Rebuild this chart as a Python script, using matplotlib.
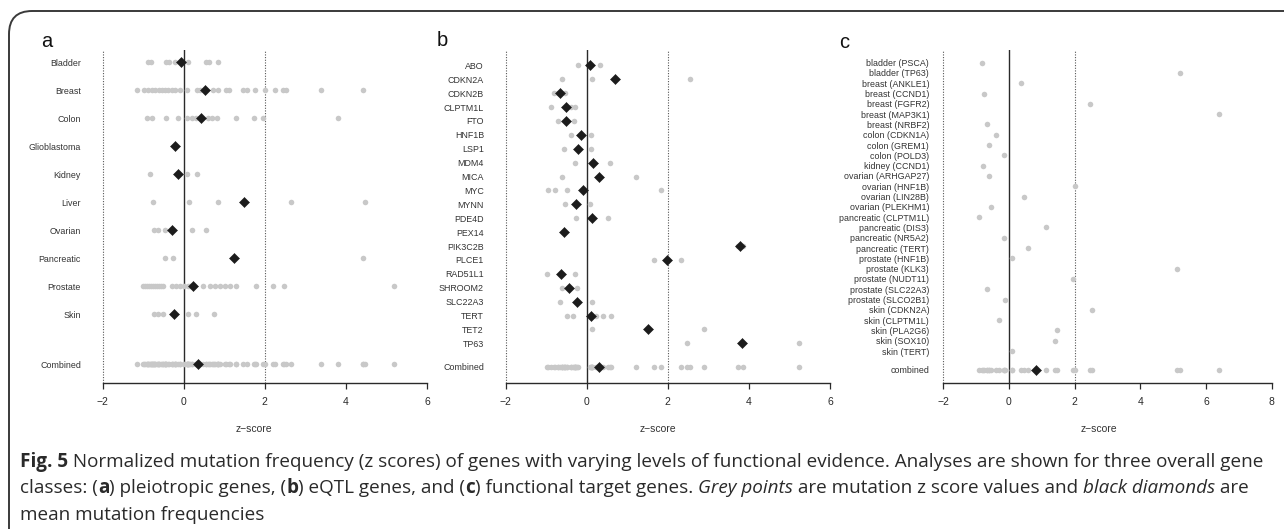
import numpy as np
import matplotlib
matplotlib.use("Agg")
import matplotlib.pyplot as plt
from matplotlib.patches import FancyBboxPatch
from matplotlib.transforms import blended_transform_factory

# ---------------- data ----------------
cats_a = ["Bladder", "Breast", "Colon", "Glioblastoma", "Kidney", "Liver",
          "Ovarian", "Pancreatic", "Prostate", "Skin"]
z_bladder = [-0.89, -0.82, -0.45, -0.37, -0.22, 0.11, 0.55, 0.63, 0.85]
z_breast = [-1.16, -0.98, -0.87, -0.79, -0.71, -0.62, -0.54, -0.46, -0.38, -0.30,
            -0.22, -0.09, 0.09, 0.32, 0.40, 0.73, 0.85, 1.04, 1.12, 1.45, 1.55,
            1.76, 2.00, 2.25, 2.45, 2.52, 3.38, 4.41]
z_colon = [-0.90, -0.78, -0.45, -0.13, 0.09, 0.20, 0.30, 0.60, 0.70, 0.82, 1.29,
           1.74, 1.95, 3.80]
z_glio = [-0.22]
z_kidney = [-0.83, 0.07, 0.32]
z_liver = [-0.75, 0.13, 0.84, 2.65, 4.46]
z_ovarian = [-0.73, -0.63, -0.46, 0.20, 0.55]
z_pancreatic = [-0.47, -0.26, 4.43]
z_prostate = [-1.00, -0.95, -0.90, -0.85, -0.80, -0.75, -0.70, -0.65, -0.60, -0.55,
              -0.50, -0.30, -0.20, -0.10, 0.00, 0.10, 0.15, 0.48, 0.65, 0.78, 0.90,
              1.02, 1.15, 1.29, 1.77, 2.20, 2.47, 5.18]
z_skin = [-0.73, -0.63, -0.50, 0.10, 0.29, 0.74]
mean_a = [-0.07, 0.52, 0.43, -0.22, -0.13, 1.48, -0.28, 1.25, 0.24, -0.23]
mean_a_combined = 0.34

genes_b = ["ABO", "CDKN2A", "CDKN2B", "CLPTM1L", "FTO", "HNF1B", "LSP1", "MDM4",
           "MICA", "MYC", "MYNN", "PDE4D", "PEX14", "PIK3C2B", "PLCE1", "RAD51L1",
           "SHROOM2", "SLC22A3", "TERT", "TET2", "TP63"]
z_b = [
    [-0.21, 0.33],                 # ABO
    [-0.60, 0.12, 2.54],           # CDKN2A
    [-0.81, -0.72, -0.54],         # CDKN2B
    [-0.89, -0.38, -0.30],         # CLPTM1L
    [-0.72, -0.31],                # FTO
    [-0.40, 0.11],                 # HNF1B
    [-0.56, 0.10],                 # LSP1
    [-0.28, 0.58],                 # MDM4
    [-0.62, 1.21],                 # MICA
    [-0.95, -0.78, -0.49, 1.83],   # MYC
    [-0.54, 0.09],                 # MYNN
    [-0.26, 0.53],                 # PDE4D
    [-0.55],                       # PEX14
    [3.72, 3.86],                  # PIK3C2B
    [1.67, 2.32],                  # PLCE1
    [-0.99, -0.30],                # RAD51L1
    [-0.62, -0.23],                # SHROOM2
    [-0.65, 0.13],                 # SLC22A3
    [-0.48, -0.35, 0.24, 0.39, 0.60],  # TERT
    [0.12, 2.89],                  # TET2
    [2.46, 5.24],                  # TP63
]
mean_b = [0.07, 0.69, -0.67, -0.50, -0.52, -0.14, -0.22, 0.15, 0.30, -0.09, -0.26,
          0.14, -0.55, 3.78, 1.99, -0.64, -0.43, -0.25, 0.10, 1.50, 3.84]
mean_b_combined = 0.31

labels_c = ["bladder (PSCA)", "bladder (TP63)", "breast (ANKLE1)", "breast (CCND1)",
            "breast (FGFR2)", "breast (MAP3K1)", "breast (NRBF2)", "colon (CDKN1A)",
            "colon (GREM1)", "colon (POLD3)", "kidney (CCND1)", "ovarian (ARHGAP27)",
            "ovarian (HNF1B)", "ovarian (LIN28B)", "ovarian (PLEKHM1)",
            "pancreatic (CLPTM1L)", "pancreatic (DIS3)", "pancreatic (NR5A2)",
            "pancreatic (TERT)", "prostate (HNF1B)", "prostate (KLK3)",
            "prostate (NUDT11)", "prostate (SLC22A3)", "prostate (SLCO2B1)",
            "skin (CDKN2A)", "skin (CLPTM1L)", "skin (PLA2G6)", "skin (SOX10)",
            "skin (TERT)"]
z_c = [-0.83, 5.22, 0.37, -0.77, 2.48, 6.41, -0.68, -0.40, -0.62, -0.16, -0.78,
       -0.61, 2.01, 0.45, -0.55, -0.91, 1.14, -0.14, 0.58, 0.09, 5.11, 1.95, -0.67,
       -0.11, 2.53, -0.31, 1.46, 1.39, 0.10]
mean_c_combined = 0.82

ticks_ab = [-2, 0, 2, 4, 6]
ticks_c = [-2, 0, 2, 4, 6, 8]

# ---------------- style ----------------
W, H = 1284, 529
fig = plt.figure(figsize=(W / 100, H / 100), dpi=100)
GREY = "#c8c8c8"
DARK = "#1c1c1c"
TXT = "#333333"
LABFONT = ["Liberation Sans", "DejaVu Sans"]


def px_axes(left, right, top, bottom):
    return fig.add_axes([left / W, 1 - bottom / H, (right - left) / W, (bottom - top) / H])


def style_axes(ax, ticks, ylabels, ypos, ylim, pad_pt, xlab_val):
    ax.set_ylim(*ylim)
    for s in ("left", "top", "right"):
        ax.spines[s].set_visible(False)
    ax.spines["bottom"].set_bounds(ticks[0], ticks[-1])
    ax.spines["bottom"].set_color("#2a2a2a")
    ax.spines["bottom"].set_linewidth(1.0)
    ax.set_xticks(ticks)
    ax.set_xticklabels(["\u2212" + str(-t) if t < 0 else str(t) for t in ticks],
                       fontsize=7.5, color=TXT, family=LABFONT)
    ax.tick_params(axis="x", length=4.2, width=0.9, pad=6, colors="#2a2a2a")
    ax.set_yticks(ypos)
    ax.set_yticklabels(ylabels, fontsize=6.4, color=TXT, family=LABFONT)
    ax.tick_params(axis="y", length=0, pad=pad_pt)
    ax.axvline(0, color="#2a2a2a", lw=1.0, zorder=1)
    for v in (-2, 2):
        ax.axvline(v, color="#555555", lw=0.8, ls=(0, (1, 1.4)), zorder=1)
    tr = blended_transform_factory(ax.transData, ax.transAxes)
    ax.text(xlab_val, -46 / 332.7, "z\u2212score", transform=tr, ha="center",
            va="center", fontsize=7.5, color=TXT, family=LABFONT)
    ax.patch.set_alpha(0)


def gray(ax, xs, y):
    ax.plot(xs, [y] * len(xs), "o", ms=4.0, color=GREY, mec="none", zorder=2,
            clip_on=False)


def diamond(ax, x, y):
    ax.plot([x], [y], "D", ms=4.6, color=DARK, mec=DARK, mew=0.4, zorder=3,
            clip_on=False)


# ---- panel a ----
axa = px_axes(89.7, 440.0, 50, 382.7)
axa.set_xlim(-2.32, 6.32)
z_a = [z_bladder, z_breast, z_colon, z_glio, z_kidney, z_liver, z_ovarian,
       z_pancreatic, z_prostate, z_skin]
ypos_a = list(range(len(cats_a))) + [10.8]
for i, vals in enumerate(z_a):
    gray(axa, vals, i)
gray(axa, np.concatenate(z_a), ypos_a[-1])
for i, m in enumerate(mean_a):
    diamond(axa, m, i)
diamond(axa, mean_a_combined, ypos_a[-1])
style_axes(axa, ticks_ab, cats_a + ["Combined"], ypos_a, (11.45, -0.43), 6.3, 1.73)

# ---- panel b ----
axb = px_axes(492.7, 843.0, 50, 382.7)
axb.set_xlim(-2.32, 6.32)
ypos_b = list(range(len(genes_b))) + [21.68]
for i, vals in enumerate(z_b):
    gray(axb, vals, i)
gray(axb, np.concatenate(z_b), ypos_b[-1])
for i, m in enumerate(mean_b):
    diamond(axb, m, i)
diamond(axb, mean_b_combined, ypos_b[-1])
style_axes(axb, ticks_ab, genes_b + ["Combined"], ypos_b, (22.83, -1.1), 6.3, 1.76)

# ---- panel c ----
axc = px_axes(930.2, 1284.8, 50, 382.7)
axc.set_xlim(-2.4, 8.4)
ypos_c = list(range(len(labels_c))) + [29.81]
for i, v in enumerate(z_c):
    gray(axc, [v], i)
gray(axc, z_c, ypos_c[-1])
diamond(axc, mean_c_combined, ypos_c[-1])
style_axes(axc, ticks_c, labels_c + ["combined"], ypos_c, (31.07, -1.23), 0.7, 2.73)

# panel letters
for lab, x, y in (("a", 47, 41.7), ("b", 442.7, 40.7), ("c", 844, 42.7)):
    fig.text(x / W, 1 - y / H, lab, fontsize=14.5, ha="center", va="center",
             color="#111111", family=LABFONT)

# frame
frame = FancyBboxPatch((9 / W, -0.2), 1.3, 0.2 + (H - 11) / H,
                       boxstyle="round,pad=0,rounding_size=0.018",
                       transform=fig.transFigure, fill=False,
                       ec="#3a3a3a", lw=1.4, mutation_aspect=W / H)
fig.add_artist(frame)

# caption
CAPFONT = ["Open Sans", "DejaVu Sans"]
CAPCOL = "#2a2a2a"
line1 = [("Fig. 5", "bold", "normal"),
         (" Normalized mutation frequency (z scores) of genes with varying levels of "
          "functional evidence. Analyses are shown for three overall gene", "normal", "normal")]
line2 = [("classes: (", "normal", "normal"), ("a", "bold", "normal"),
         (") pleiotropic genes, (", "normal", "normal"), ("b", "bold", "normal"),
         (") eQTL genes, and (", "normal", "normal"), ("c", "bold", "normal"),
         (") functional target genes. ", "normal", "normal"),
         ("Grey points", "normal", "italic"),
         (" are mutation z score values and ", "normal", "normal"),
         ("black diamonds", "normal", "italic"), (" are", "normal", "normal")]
line3 = [("mean mutation frequencies", "normal", "normal")]

renderer = fig.canvas.get_renderer()


def draw_runs(runs, x0, ybase, size, draw=True):
    x = x0
    for txt, wt, st in runs:
        t = fig.text(x / W, 1 - ybase / H, txt.replace(" ", "\u00a0"), fontsize=size,
                     weight=wt, style=st, family=CAPFONT, color=CAPCOL,
                     ha="left", va="baseline")
        bb = t.get_window_extent(renderer)
        x += bb.width
        if not draw:
            t.remove()
    return x - x0


w10 = draw_runs(line1, 20, 466.6, 10, draw=False)
cap_size = 10 * (1238 / w10)
draw_runs(line1, 20, 466.6, cap_size)
draw_runs(line2, 20, 493.3, cap_size)
draw_runs(line3, 20, 520.0, cap_size)

fig.savefig("out.png", dpi=100)
